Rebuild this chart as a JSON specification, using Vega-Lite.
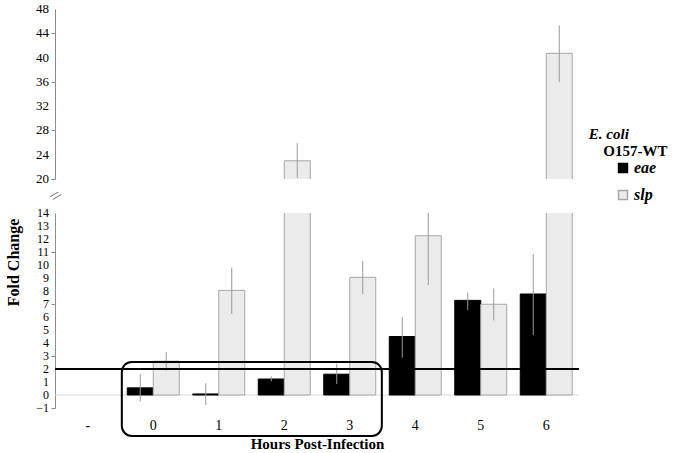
{
  "$schema": "https://vega.github.io/schema/vega-lite/v6.json",
  "padding": {"left": 5, "top": 3, "right": 5, "bottom": 5},
  "bounds": "flush",
  "spacing": 34,
  "config": {
    "font": "Liberation Serif",
    "view": {"stroke": null},
    "axis": {"labelFont": "Liberation Serif", "titleFont": "Liberation Serif", "labelColor": "#000", "titleColor": "#000", "grid": false, "domainColor": "#8c8c8c", "tickColor": "#8c8c8c", "labelFontSize": 13, "tickSize": 4},
    "legend": {"labelFont": "Liberation Serif"}
  },
  "datasets": {
    "bars": [
      {"hour": "0", "gene": "eae", "value": 0.55, "lo": -0.5, "hi": 1.6},
      {"hour": "0", "gene": "slp", "value": 2.6, "lo": 1.85, "hi": 3.3},
      {"hour": "1", "gene": "eae", "value": 0.08, "lo": -0.77, "hi": 0.9},
      {"hour": "1", "gene": "slp", "value": 8.05, "lo": 6.25, "hi": 9.8},
      {"hour": "2", "gene": "eae", "value": 1.23, "lo": 1.05, "hi": 1.44},
      {"hour": "2", "gene": "slp", "value": 23.0, "lo": 20.2, "hi": 25.9},
      {"hour": "3", "gene": "eae", "value": 1.6, "lo": 0.85, "hi": 2.4},
      {"hour": "3", "gene": "slp", "value": 9.05, "lo": 7.75, "hi": 10.3},
      {"hour": "4", "gene": "eae", "value": 4.5, "lo": 2.87, "hi": 6.0},
      {"hour": "4", "gene": "slp", "value": 12.25, "lo": 8.46, "hi": 16.0},
      {"hour": "5", "gene": "eae", "value": 7.28, "lo": 6.54, "hi": 7.9},
      {"hour": "5", "gene": "slp", "value": 6.98, "lo": 5.74, "hi": 8.2},
      {"hour": "6", "gene": "eae", "value": 7.77, "lo": 4.6, "hi": 10.85},
      {"hour": "6", "gene": "slp", "value": 40.7, "lo": 36.0, "hi": 45.3}
    ],
    "upperTicks": [{"v": 20}, {"v": 24}, {"v": 28}, {"v": 32}, {"v": 36}, {"v": 40}, {"v": 44}, {"v": 48}],
    "lowerTicks": [{"v": -1}, {"v": 0}, {"v": 1}, {"v": 2}, {"v": 3}, {"v": 4}, {"v": 5}, {"v": 6}, {"v": 7}, {"v": 8}, {"v": 9}, {"v": 10}, {"v": 11}, {"v": 12}, {"v": 13}, {"v": 14}]
  },
  "resolve": {"scale": {"y": "independent", "fill": "independent", "stroke": "independent"}},
  "vconcat": [
    {
      "width": 524,
      "height": 170,
      "layer": [
        {
          "data": {"name": "bars"},
          "layer": [
            {
              "mark": {"type": "bar", "clip": true, "strokeWidth": 1},
              "encoding": {
                "x": {"field": "hour", "type": "nominal", "scale": {"domain": ["-", "0", "1", "2", "3", "4", "5", "6"], "paddingInner": 0, "paddingOuter": 0}, "axis": null},
                "xOffset": {"field": "gene", "type": "nominal", "scale": {"domain": ["eae", "slp"], "paddingInner": 0, "paddingOuter": 0.26}},
                "y": {"field": "value", "type": "quantitative", "scale": {"domain": [20, 48], "nice": false, "zero": false}, "axis": {"title": null, "labels": false, "values": [20, 22, 24, 26, 28, 30, 32, 34, 36, 38, 40, 42, 44, 46, 48]}},
                "fill": {"field": "gene", "type": "nominal", "scale": {"domain": ["eae", "slp"], "range": ["#000000", "#ebebeb"]}, "legend": null},
                "stroke": {"field": "gene", "type": "nominal", "scale": {"domain": ["eae", "slp"], "range": ["#000000", "#a6a6a6"]}, "legend": null}
              }
            },
            {
              "mark": {"type": "rule", "clip": true, "color": "#9a9a9a", "strokeWidth": 1},
              "encoding": {
                "x": {"field": "hour", "type": "nominal"},
                "xOffset": {"field": "gene", "type": "nominal"},
                "y": {"field": "lo", "type": "quantitative"},
                "y2": {"field": "hi"}
              }
            }
          ]
        },
        {
          "data": {"name": "upperTicks"},
          "mark": {"type": "text", "align": "right", "baseline": "middle", "fontSize": 13, "color": "#000", "clip": false},
          "encoding": {
            "x": {"datum": -0.09, "type": "quantitative", "scale": {"domain": [0, 8], "nice": false, "zero": false}, "axis": null},
            "y": {"field": "v", "type": "quantitative"},
            "text": {"field": "v", "type": "quantitative"}
          }
        }
      ],
      "resolve": {"scale": {"x": "independent"}}
    },
    {
      "width": 524,
      "height": 195,
      "layer": [
        {
          "layer": [
            {
              "data": {"values": [{"y": 0}]},
              "mark": {"type": "rule", "color": "#d9d9d9", "strokeWidth": 1},
              "encoding": {"y": {"field": "y", "type": "quantitative"}}
            },
            {
              "data": {"name": "bars"},
              "mark": {"type": "bar", "clip": true, "strokeWidth": 1},
              "encoding": {
                "x": {"field": "hour", "type": "nominal", "scale": {"domain": ["-", "0", "1", "2", "3", "4", "5", "6"], "paddingInner": 0, "paddingOuter": 0}, "axis": {"title": "Hours Post-Infection", "titleFontSize": 15, "titleFontWeight": "bold", "labelFontSize": 14, "labelAngle": 0, "ticks": false, "domain": false, "labelPadding": 10, "titlePadding": 4}},
                "xOffset": {"field": "gene", "type": "nominal", "scale": {"domain": ["eae", "slp"], "paddingInner": 0, "paddingOuter": 0.26}},
                "y": {"field": "value", "type": "quantitative", "scale": {"domain": [-1, 14], "nice": false, "zero": false}, "axis": {"title": "Fold Change", "titleFontSize": 16, "titleFontWeight": "bold", "titleY": 49, "titlePadding": 29, "labels": false, "values": [-1, 0, 1, 2, 3, 4, 5, 6, 7, 8, 9, 10, 11, 12, 13, 14]}},
                "fill": {"field": "gene", "type": "nominal", "scale": {"domain": ["eae", "slp"], "range": ["#000000", "#ebebeb"]}, "legend": {"orient": "none", "legendX": 560, "legendY": -53, "title": null, "symbolType": "square", "symbolSize": 80, "labelFontSize": 16, "labelFontStyle": "italic", "labelFontWeight": "bold", "rowPadding": 11, "labelOffset": 3}},
                "stroke": {"field": "gene", "type": "nominal", "scale": {"domain": ["eae", "slp"], "range": ["#000000", "#a6a6a6"]}, "legend": {"orient": "none", "legendX": 560, "legendY": -53, "title": null, "symbolType": "square", "symbolSize": 80, "labelFontSize": 16, "labelFontStyle": "italic", "labelFontWeight": "bold", "rowPadding": 11, "labelOffset": 3}}
              }
            },
            {
              "data": {"name": "bars"},
              "mark": {"type": "rule", "clip": true, "color": "#9a9a9a", "strokeWidth": 1},
              "encoding": {
                "x": {"field": "hour", "type": "nominal"},
                "xOffset": {"field": "gene", "type": "nominal"},
                "y": {"field": "lo", "type": "quantitative"},
                "y2": {"field": "hi"}
              }
            },
            {
              "data": {"values": [{"y": 2}]},
              "mark": {"type": "rule", "color": "#000000", "strokeWidth": 2},
              "encoding": {"y": {"field": "y", "type": "quantitative"}}
            }
          ]
        },
        {
          "layer": [
            {
              "data": {"values": [{"x1": 1.02, "x2": 4.99, "y1": 2.54, "y2": -3.15}]},
              "mark": {"type": "rect", "filled": false, "stroke": "#000000", "strokeWidth": 2, "cornerRadius": 10, "clip": false},
              "encoding": {
                "x": {"field": "x1", "type": "quantitative", "scale": {"domain": [0, 8], "nice": false, "zero": false}, "axis": null},
                "x2": {"field": "x2"},
                "y": {"field": "y1", "type": "quantitative"},
                "y2": {"field": "y2"}
              }
            },
            {
              "data": {"name": "lowerTicks"},
              "mark": {"type": "text", "align": "right", "baseline": "middle", "fontSize": 12, "color": "#000", "clip": false},
              "encoding": {
                "x": {"datum": -0.09, "type": "quantitative"},
                "y": {"field": "v", "type": "quantitative"},
                "text": {"field": "v", "type": "quantitative"}
              }
            },
            {
              "data": {"values": [{"x": 0, "y": 15.3, "t": "//"}]},
              "mark": {"type": "text", "fontSize": 14, "angle": 40, "clip": false, "color": "#555"},
              "encoding": {
                "x": {"field": "x", "type": "quantitative"},
                "y": {"field": "y", "type": "quantitative"},
                "text": {"field": "t"}
              }
            },
            {
              "data": {"values": [{"x": 8.15, "y": 20.1, "t": "E. coli"}]},
              "mark": {"type": "text", "fontSize": 15, "fontWeight": "bold", "fontStyle": "italic", "align": "left", "clip": false},
              "encoding": {
                "x": {"field": "x", "type": "quantitative"},
                "y": {"field": "y", "type": "quantitative"},
                "text": {"field": "t"}
              }
            },
            {
              "data": {"values": [{"x": 8.37, "y": 18.8, "t": "O157-WT"}]},
              "mark": {"type": "text", "fontSize": 15, "fontWeight": "bold", "align": "left", "clip": false},
              "encoding": {
                "x": {"field": "x", "type": "quantitative"},
                "y": {"field": "y", "type": "quantitative"},
                "text": {"field": "t"}
              }
            }
          ]
        }
      ],
      "resolve": {"scale": {"x": "independent"}}
    }
  ]
}
